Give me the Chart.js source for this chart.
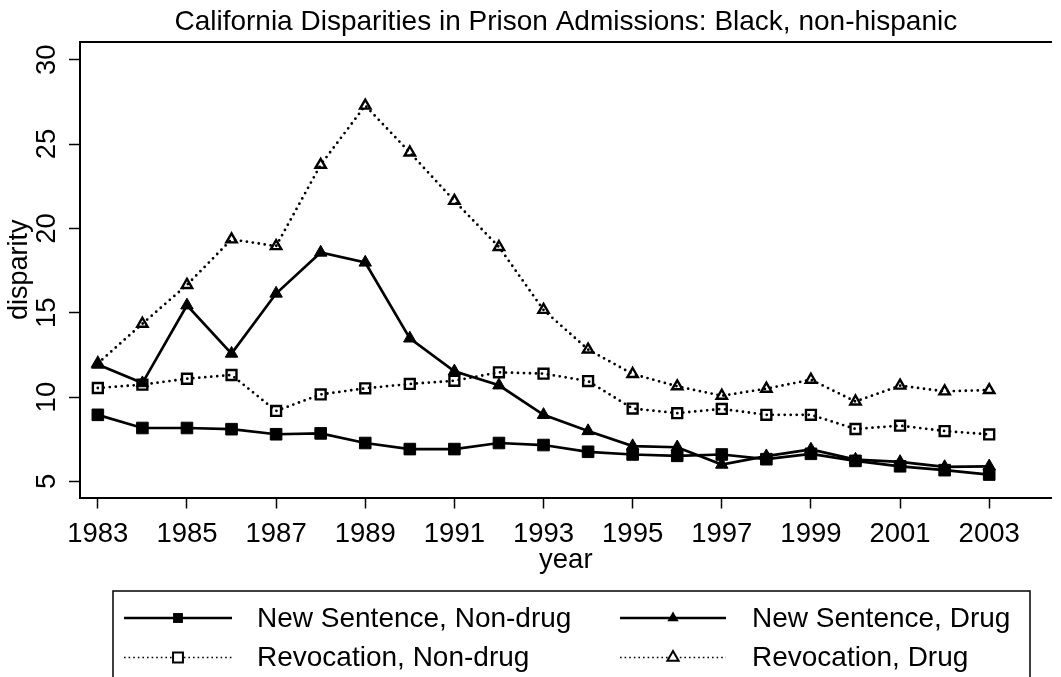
<!DOCTYPE html>
<html>
<head>
<meta charset="utf-8">
<title>California Disparities in Prison Admissions</title>
<script src="https://cdn.jsdelivr.net/npm/chart.js@4.4.0/dist/chart.umd.min.js"></script>
<style>
    html, body { margin: 0; padding: 0; background: #ffffff; }
    #wrap { width: 1061px; height: 677px; }
</style>
</head>
<body>
<div id="wrap"><canvas id="disparityChart" width="1061" height="677"></canvas></div>
<script>
// Data
const years = [1983, 1984, 1985, 1986, 1987, 1988, 1989, 1990, 1991, 1992, 1993,
    1994, 1995, 1996, 1997, 1998, 1999, 2000, 2001, 2002, 2003];

const newSentenceNonDrug = [8.95, 8.17, 8.17, 8.1, 7.8, 7.85, 7.28, 6.92, 6.92, 7.28, 7.16,
    6.76, 6.6, 6.52, 6.6, 6.32, 6.64, 6.22, 5.9, 5.67, 5.41];
const newSentenceDrug = [11.93, 10.83, 15.44, 12.58, 16.14, 18.57, 17.98, 13.48, 11.53, 10.7, 8.95,
    7.99, 7.1, 7.03, 6.0, 6.5, 6.9, 6.3, 6.16, 5.86, 5.9];
const revocationNonDrug = [10.54, 10.74, 11.09, 11.31, 9.18, 10.16, 10.52, 10.78, 10.97, 11.47, 11.39,
    10.95, 9.32, 9.05, 9.3, 8.95, 8.95, 8.11, 8.31, 7.99, 7.79];
const revocationDrug = [12.0, 14.35, 16.65, 19.35, 18.95, 23.77, 27.28, 24.5, 21.63, 18.9, 15.17,
    12.82, 11.37, 10.64, 10.08, 10.5, 11.03, 9.74, 10.68, 10.34, 10.42];

const seriesLabels = ['New Sentence, Non-drug', 'New Sentence, Drug', 'Revocation, Non-drug', 'Revocation, Drug'];
const xTickValues = [1983, 1985, 1987, 1989, 1991, 1993, 1995, 1997, 1999, 2001, 2003];
const yTickValues = [5, 10, 15, 20, 25, 30];

const chartTitle = 'California Disparities in Prison Admissions: Black, non-hispanic';
const FONT = "'Liberation Sans', Arial, sans-serif";

function toPoints(values) {
    return years.map((year, i) => ({ x: year, y: values[i] }));
}

// solid line with filled marker, or dotted line with hollow marker
function makeDataset(label, values, marker, dotted) {
    let radius;
    if (dotted) {
        radius = marker === 'rect' ? 7 : 6;
    } else {
        radius = marker === 'rect' ? 8.2 : 7.2;
    }
    return {
        label: label,
        data: toPoints(values),
        borderColor: '#000000',
        borderWidth: dotted ? 2.8 : 2.7,
        borderDash: dotted ? [0, 6] : [],
        borderCapStyle: dotted ? 'round' : 'butt',
        tension: 0,
        pointStyle: marker,
        pointRadius: radius,
        pointHoverRadius: radius,
        pointBackgroundColor: dotted ? 'rgba(0,0,0,0)' : '#000000',
        pointBorderColor: '#000000',
        pointBorderWidth: dotted ? 2.4 : 1,
        fill: false
    };
}

// Draw a small marker for the legend
function drawLegendMarker(ctx, style, filled, x, y, r) {
    ctx.beginPath();
    if (style === 'rect') {
        const s = r * Math.SQRT1_2;
        ctx.rect(x - s, y - s, 2 * s, 2 * s);
    } else {
        const a = 2 * Math.PI / 3;
        ctx.moveTo(x, y - r);
        ctx.lineTo(x + Math.sin(a) * r, y - Math.cos(a) * r);
        ctx.lineTo(x + Math.sin(2 * a) * r, y - Math.cos(2 * a) * r);
        ctx.closePath();
    }
    if (filled) {
        ctx.fillStyle = '#000000';
        ctx.fill();
    } else {
        ctx.fillStyle = '#ffffff';
        ctx.fill();
        ctx.lineWidth = 2;
        ctx.setLineDash([]);
        ctx.stroke();
    }
}

// Stata style legend: boxed, two columns, line sample with marker in the middle
const stataLegend = {
    id: 'stataLegend',
    afterDraw(chart) {
        const ctx = chart.ctx;
        const datasets = chart.data.datasets;
        const cols = [{ x0: 124, x1: 232, tx: 257 }, { x0: 620, x1: 726, tx: 752 }];
        const rows = [618, 657.5];
        ctx.save();
        ctx.strokeStyle = '#000000';
        ctx.lineWidth = 1.5;
        ctx.strokeRect(113, 591, 917, 120);

        datasets.forEach((ds, i) => {
            const col = cols[i % 2];
            const y = rows[Math.floor(i / 2)];
            const dotted = ds.borderDash && ds.borderDash.length > 0;
            ctx.beginPath();
            ctx.strokeStyle = '#000000';
            ctx.lineWidth = dotted ? 1.6 : 2.5;
            ctx.lineCap = 'butt';
            ctx.setLineDash(dotted ? [1.6, 3] : []);
            ctx.moveTo(col.x0, y);
            ctx.lineTo(col.x1, y);
            ctx.stroke();
            ctx.setLineDash([]);
            const mx = (col.x0 + col.x1) / 2;
            drawLegendMarker(ctx, ds.pointStyle, !dotted, mx, y, ds.pointStyle === 'rect' ? 7 : 6.5);

            ctx.fillStyle = '#000000';
            ctx.font = '28px ' + FONT;
            ctx.textAlign = 'left';
            ctx.textBaseline = 'middle';
            ctx.fillText(ds.label, col.tx, y + 1);
        });
        ctx.restore();
    }
};

const ctx = document.getElementById('disparityChart').getContext('2d');
const disparityChart = new Chart(ctx, {
    type: 'line',
    data: {
        datasets: [
            makeDataset(seriesLabels[0], newSentenceNonDrug, 'rect', false),
            makeDataset(seriesLabels[1], newSentenceDrug, 'triangle', false),
            makeDataset(seriesLabels[2], revocationNonDrug, 'rect', true),
            makeDataset(seriesLabels[3], revocationDrug, 'triangle', true)
        ]
    },
    options: {
        responsive: false,
        animation: false,
        devicePixelRatio: 1,
        layout: {
            padding: { top: 0, right: 0, bottom: 99.5, left: 0 }
        },
        plugins: {
            legend: { display: false },
            title: { display: false },
            tooltip: { enabled: false }
        },
        scales: {
            x: {
                type: 'linear',
                position: 'bottom',
                min: 1982.6,
                max: 2004.4,
                afterBuildTicks: scale => {
                    scale.ticks = xTickValues.map(v => ({ value: v }));
                },
                afterFit: scale => { scale.height = 80; },
                ticks: {
                    color: '#000000',
                    font: { family: FONT, size: 27.5 },
                    padding: 9,
                    autoSkip: false,
                    maxRotation: 0,
                    callback: value => String(value)
                },
                grid: {
                    display: true,
                    drawOnChartArea: false,
                    drawTicks: true,
                    tickLength: 11,
                    tickWidth: 1.5,
                    tickColor: '#000000'
                },
                border: { display: true, color: '#000000', width: 2 },
                title: {
                    display: true,
                    text: 'year',
                    color: '#000000',
                    font: { family: FONT, size: 27.5 },
                    padding: { top: 0, bottom: 1 }
                }
            },
            x2: {
                type: 'linear',
                position: 'top',
                display: true,
                min: 1982.6,
                max: 2004.4,
                afterFit: scale => { scale.height = 42; },
                ticks: { display: false },
                grid: { display: true, drawOnChartArea: false, drawTicks: false },
                border: { display: true, color: '#000000', width: 2 },
                title: {
                    display: true,
                    text: chartTitle,
                    color: '#000000',
                    font: { family: FONT, size: 28 },
                    padding: { top: 5, bottom: 0 }
                }
            },
            y: {
                type: 'linear',
                position: 'left',
                min: 4.05,
                max: 31.05,
                afterBuildTicks: scale => {
                    scale.ticks = yTickValues.map(v => ({ value: v }));
                },
                afterFit: scale => { scale.width = 80; },
                ticks: {
                    color: '#000000',
                    font: { family: FONT, size: 27.5 },
                    minRotation: 90,
                    maxRotation: 90,
                    crossAlign: 'center',
                    padding: 6,
                    callback: value => String(value)
                },
                grid: {
                    display: true,
                    drawOnChartArea: false,
                    drawTicks: true,
                    tickLength: 11,
                    tickWidth: 1.5,
                    tickColor: '#000000'
                },
                border: { display: true, color: '#000000', width: 2 },
                title: {
                    display: true,
                    text: 'disparity',
                    color: '#000000',
                    font: { family: FONT, size: 27 },
                    padding: { top: 3, bottom: 0 }
                }
            }
        }
    },
    plugins: [stataLegend]
});
</script>
</body>
</html>
